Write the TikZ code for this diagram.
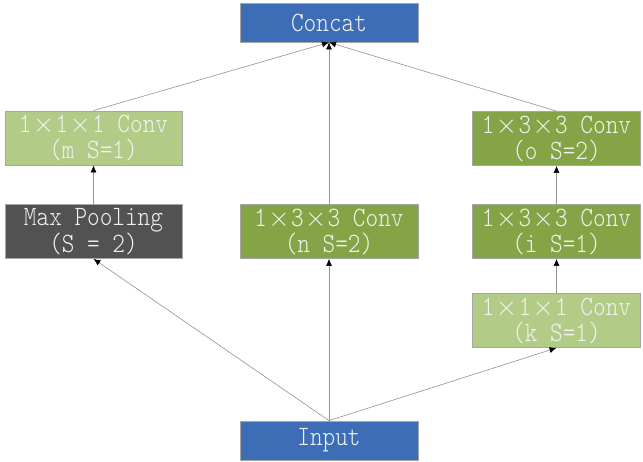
\documentclass[tikz,border=0pt]{standalone}
\usepackage{fontspec}
\usetikzlibrary{arrows.meta}
\newfontfamily\boxfont[FakeStretch=0.86]{Latin Modern Mono Light}
\definecolor{blk}{HTML}{3D6EB5}
\definecolor{lgreen}{HTML}{B2CB87}
\definecolor{dgreen}{HTML}{84A446}
\definecolor{dgrey}{HTML}{525252}
\definecolor{edge}{HTML}{A6A6A6}
\definecolor{txt}{HTML}{F2F2F2}
% full-width multiplication sign
\newcommand\tms{\makebox[24pt][c]{\scalebox{1.1}{$\times$}}}
\begin{document}
\begin{tikzpicture}[x=1pt,y=-1pt,
  box/.style={draw=edge,line width=0.8pt,text=txt,align=center,inner sep=0pt,
    font=\boxfont\fontsize{28}{26}\selectfont},
  wide/.style={box,minimum width=178pt},
  narrow/.style={box,minimum width=168pt},
  tall/.style={minimum height=54pt},
  low/.style={minimum height=39pt},
  link/.style={draw=gray!85,line width=0.6pt,-{Latex[length=7pt,width=6pt,black]}}]
  \useasboundingbox[fill=white] (0,0) rectangle (643,462);

  \node[wide,low,fill=blk] (concat) at (329,22.5) {Concat};
  \node[wide,low,fill=blk] (input) at (329,440.5) {Input};

  \node[wide,tall,fill=lgreen,minimum width=177pt] (conv1) at (93.5,138) {1\tms1\tms1 Conv\\(m S=1)};
  \node[wide,tall,fill=dgrey,minimum width=177pt] (pool) at (93.5,231.5) {Max Pooling\\(S = 2)};

  \node[wide,tall,fill=dgreen] (convn) at (329,231.5) {1\tms3\tms3 Conv\\(n S=2)};

  \node[narrow,tall,fill=dgreen] (convo) at (556.5,138.5) {1\tms3\tms3 Conv\\(o S=2)};
  \node[narrow,tall,fill=dgreen] (convi) at (556.5,231.5) {1\tms3\tms3 Conv\\(i S=1)};
  \node[narrow,tall,fill=lgreen] (convk) at (556.5,320.5) {1\tms1\tms1 Conv\\(k S=1)};

  \draw[link] (input.north) -- (pool.south);
  \draw[link] (input.north) -- (convn.south);
  \draw[link] (input.north) -- (convk.south);
  \draw[link] (pool.north) -- (conv1.south);
  \draw[link] (convk.north) -- (convi.south);
  \draw[link] (convi.north) -- (convo.south);
  \draw[link] (conv1.north) -- (concat.south);
  \draw[link] (convn.north) -- (concat.south);
  \draw[link] (convo.north) -- (concat.south);
\end{tikzpicture}
\end{document}
